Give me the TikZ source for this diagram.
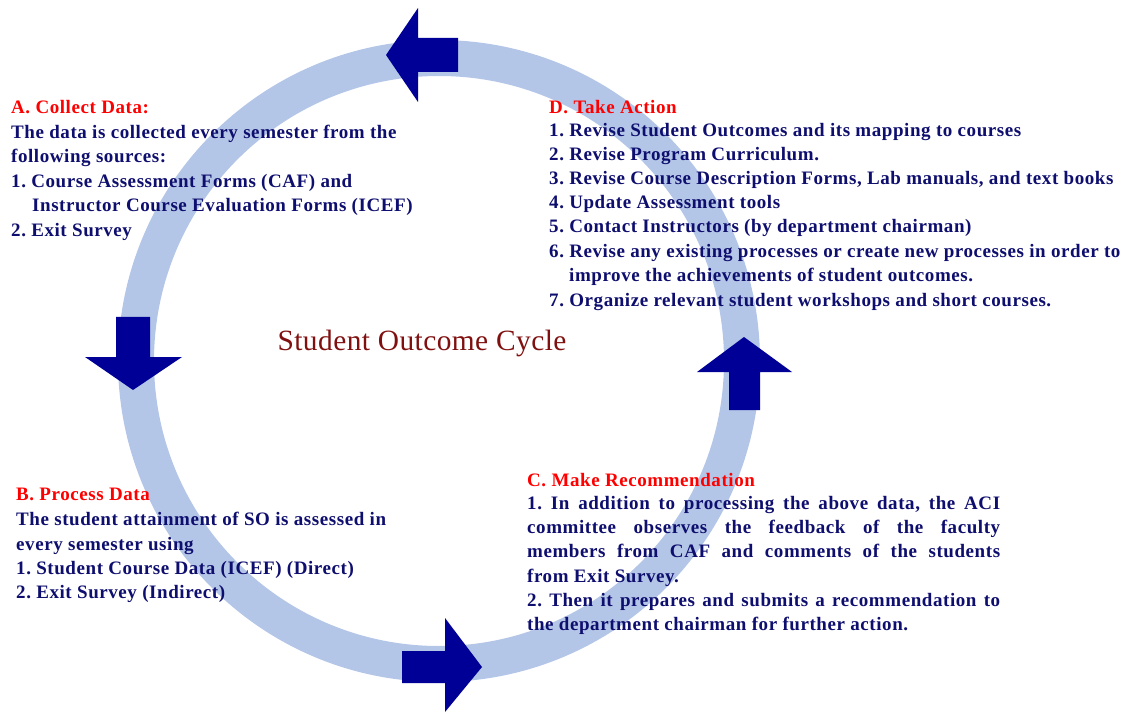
\documentclass[tikz,border=0pt]{standalone}
\usepackage{fontspec}
\setmainfont{Liberation Serif}
\newfontfamily\bodyfont[LetterSpace=3.0]{Liberation Serif}
\newfontfamily\titlefont[LetterSpace=1.5]{Liberation Serif}
\definecolor{ringblue}{RGB}{180,198,231}
\definecolor{arrowblue}{RGB}{0,0,150}
\definecolor{navytext}{RGB}{14,14,110}
\definecolor{headred}{RGB}{255,0,0}
\definecolor{titlered}{RGB}{128,16,16}
\frenchspacing
\begin{document}
\begin{tikzpicture}[x=1pt,y=-1pt,
  body/.style={anchor=base west,inner sep=0pt,text=navytext,font=\bodyfont\fontsize{19}{22}\selectfont\bfseries},
  head/.style={body,text=headred},
  arrowshape/.style={fill=arrowblue,draw=none}]
\useasboundingbox (0,0) rectangle (1128,714);
% ring
\draw[ringblue,line width=36pt] (439,361) circle[radius=303pt];
% arrows
\fill[arrowshape] (386,55) -- (418,8) -- (418,38) -- (458,38) -- (458,72) -- (418,72) -- (418,102) -- cycle;
\fill[arrowshape] (116,317) -- (150,317) -- (150,357) -- (182,357) -- (133,390) -- (85,357) -- (116,357) -- cycle;
\fill[arrowshape] (744,337) -- (792,372) -- (760,372) -- (760,410) -- (729,410) -- (729,372) -- (697,372) -- cycle;
\fill[arrowshape] (402,651) -- (445,651) -- (445,618) -- (482,667) -- (445,712) -- (445,683) -- (402,683) -- cycle;
% title
\node[anchor=base,inner sep=0pt,text=titlered,font=\titlefont\fontsize{29.4}{32}\selectfont] (title) at (422,350) {Student Outcome Cycle};
% A
\node[head] (ah) at (11,114) {A. Collect Data:};
\node[body] (a1) at (11,139) {The data is collected every semester from the};
\node[body] (a2) at (11,163) {following sources:};
\node[body] (a3) at (11,188) {1. Course Assessment Forms (CAF) and};
\node[body] (a4) at (32,212) {Instructor Course Evaluation Forms (ICEF)};
\node[body] (a5) at (11,237) {2. Exit Survey};
% D
\node[head] (dh) at (549,114) {D. Take Action};
\node[body] (d1) at (549,137) {1. Revise Student Outcomes and its mapping to courses};
\node[body] (d2) at (549,161) {2. Revise Program Curriculum.};
\node[body] (d3) at (549,185) {3. Revise Course Description Forms, Lab manuals, and text books};
\node[body] (d4) at (549,209) {4. Update Assessment tools};
\node[body] (d5) at (549,233) {5. Contact Instructors (by department chairman)};
\node[body] (d6) at (549,258) {6. Revise any existing processes or create new processes in order to};
\node[body] (d7) at (569,282) {improve the achievements of student outcomes.};
\node[body] (d8) at (549,306) {7. Organize relevant student workshops and short courses.};
% B
\node[head] (bh) at (16,500) {B. Process Data};
\node[body] (b1) at (16,525) {The student attainment of SO is assessed in};
\node[body] (b2) at (16,550) {every semester using};
\node[body] (b3) at (16,574) {1. Student Course Data (ICEF) (Direct)};
\node[body] (b4) at (16,598) {2. Exit Survey (Indirect)};
% C
\node[head] (ch) at (527,486) {C. Make Recommendation};
\node[body] (c1) at (527,509) {\makebox[473pt][s]{1. In addition to processing the above data, the ACI}};
\node[body] (c2) at (527,533) {\makebox[473pt][s]{committee observes the feedback of the faculty}};
\node[body] (c3) at (527,557) {\makebox[473pt][s]{members from CAF and comments of the students}};
\node[body] (c4) at (527,582) {from Exit Survey.};
\node[body] (c5) at (527,606) {\makebox[473pt][s]{2. Then it prepares and submits a recommendation to}};
\node[body] (c6) at (527,630) {the department chairman for further action.};
\end{tikzpicture}
\end{document}
